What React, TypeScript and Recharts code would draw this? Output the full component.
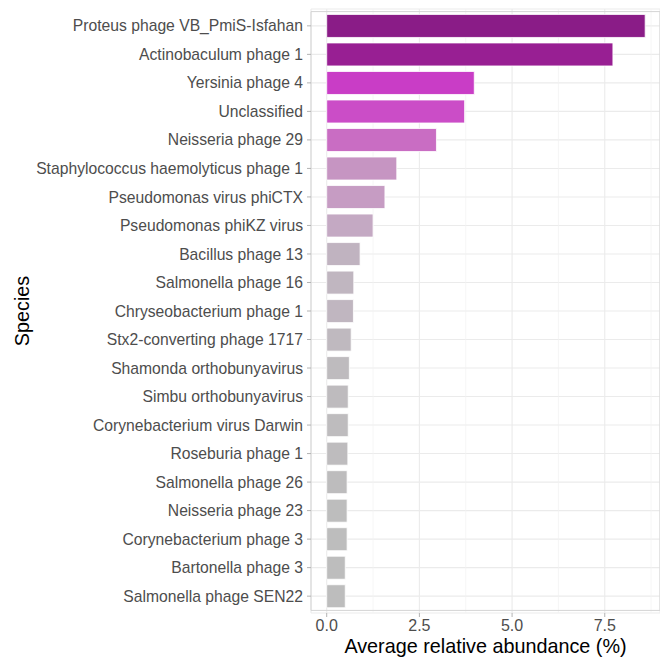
import React from "react";
import {
  BarChart,
  Bar,
  XAxis,
  YAxis,
  CartesianGrid,
  Cell,
  ReferenceLine,
  ReferenceArea,
} from "recharts";

const species = [
  "Proteus phage VB_PmiS-Isfahan",
  "Actinobaculum phage 1",
  "Yersinia phage 4",
  "Unclassified",
  "Neisseria phage 29",
  "Staphylococcus haemolyticus phage 1",
  "Pseudomonas virus phiCTX",
  "Pseudomonas phiKZ virus",
  "Bacillus phage 13",
  "Salmonella phage 16",
  "Chryseobacterium phage 1",
  "Stx2-converting phage 1717",
  "Shamonda orthobunyavirus",
  "Simbu orthobunyavirus",
  "Corynebacterium virus Darwin",
  "Roseburia phage 1",
  "Salmonella phage 26",
  "Neisseria phage 23",
  "Corynebacterium phage 3",
  "Bartonella phage 3",
  "Salmonella phage SEN22",
];

const abundance = [
  8.59, 7.72, 3.98, 3.72, 2.96, 1.89, 1.57, 1.25, 0.9, 0.73, 0.72, 0.66, 0.61,
  0.58, 0.58, 0.57, 0.55, 0.55, 0.55, 0.5, 0.5,
];

const barColors = [
  "#8A1C87", "#981F93", "#C93DC6", "#CB4DC7", "#C96DC3", "#C695C2", "#C69CC3",
  "#C4A9C3", "#C0B3C0", "#C0B6C0", "#C0B6C0", "#BFB9BF", "#BEBBBE", "#BEBBBE",
  "#BEBCBE", "#BEBCBE", "#BDBCBD", "#BDBDBD", "#BDBDBD", "#BDBDBD", "#BDBDBD",
];

const majorTicks = [0, 2.5, 5, 7.5];
const minorTicks = [1.25, 3.75, 6.25, 8.75];

const data = species.map((name, i) => ({ name, value: abundance[i] }));

const FONT = '"Liberation Sans", Arial, Helvetica, sans-serif';

export default function App() {
  return (
    <div style={{ width: 660, height: 660, background: "#fff" }}>
      <style>{`body{margin:0;}`}</style>
      <BarChart
        width={660}
        height={660}
        data={data}
        layout="vertical"
        margin={{ top: 9, right: 0, bottom: 0, left: 0 }}
        barCategoryGap="10%"
        style={{ fontFamily: FONT }}
      >
        <CartesianGrid
          stroke="#EBEBEB"
          strokeWidth={1.1}
          vertical={true}
          horizontal={true}
        />
        {minorTicks.map((t) => (
          <ReferenceLine
            key={t}
            x={t}
            stroke="#F2F2F2"
            strokeWidth={0.7}
            zIndex={-50}
          />
        ))}
        <XAxis
          type="number"
          domain={[-0.424, 8.99]}
          allowDataOverflow
          ticks={majorTicks}
          tickFormatter={(v: number) => v.toFixed(1)}
          height={47}
          axisLine={false}
          tickLine={{ stroke: "#B3B3B3" }}
          tickSize={4}
          tickMargin={3}
          tick={{ fill: "#4D4D4D", fontSize: 16, fontFamily: FONT }}
          label={{
            value: "Average relative abundance (%)",
            position: "insideBottom",
            offset: 7,
            style: { fill: "#000", fontSize: 19.8, fontFamily: FONT },
          }}
        />
        <YAxis
          type="category"
          dataKey="name"
          width={311}
          interval={0}
          padding={{ top: 2.6, bottom: 2.6 }}
          axisLine={false}
          tickLine={{ stroke: "#B3B3B3" }}
          tickSize={4}
          tickMargin={4}
          tick={{ fill: "#4D4D4D", fontSize: 15.7, fontFamily: FONT }}
          label={{
            value: "Species",
            angle: -90,
            position: "insideLeft",
            offset: 22,
            style: {
              fill: "#000",
              fontSize: 19.8,
              fontFamily: FONT,
              textAnchor: "middle",
            },
          }}
        />
        <ReferenceArea
          x1={-0.424}
          x2={8.99}
          fill="none"
          stroke="#D4D4D4"
          strokeWidth={1}
          ifOverflow="visible"
        />
        <Bar
          dataKey="value"
          isAnimationActive={false}
          stroke="#FFFFFF"
          strokeWidth={0.8}
        >
          {data.map((d, i) => (
            <Cell key={d.name} fill={barColors[i]} />
          ))}
        </Bar>
      </BarChart>
    </div>
  );
}
